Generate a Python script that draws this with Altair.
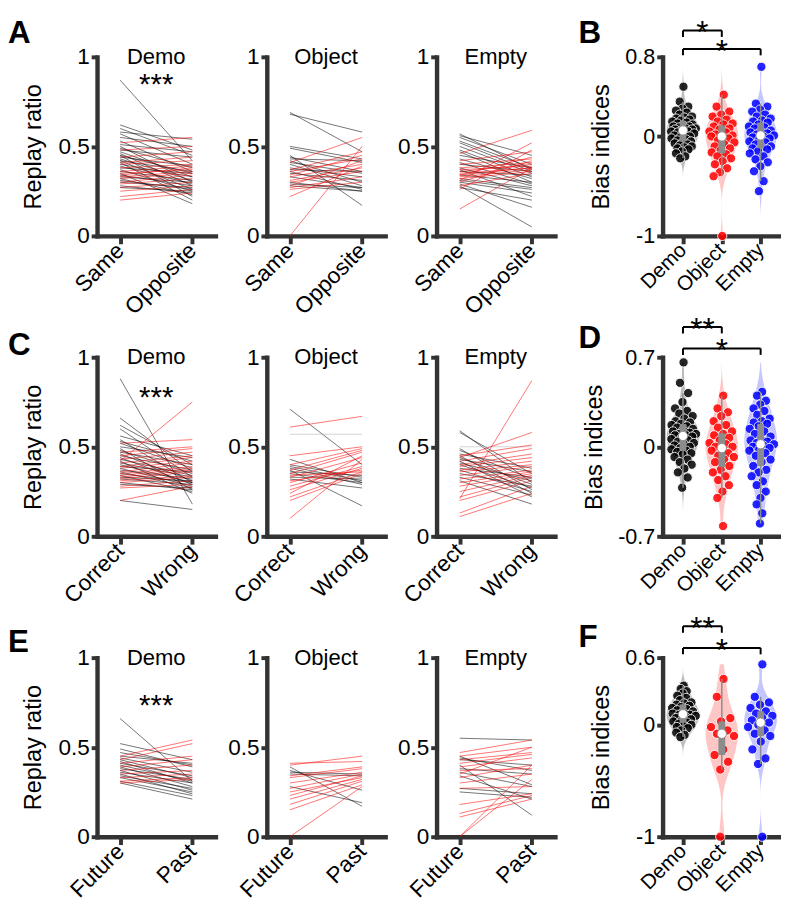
import altair as alt
import pandas as pd

FONT = "Liberation Sans"

groups = ["Demo", "Object", "Empty"]
cond_labels = [["Same", "Opposite"], ["Correct", "Wrong"], ["Future", "Past"]]
letters = [["A", "B"], ["C", "D"], ["E", "F"]]
letter_dy = [[4, 33], [16, 42], [12, 41]]
sig_stars = ["***", "***", "***"]
sig_star_level = [0.84, 0.77, 0.73]

# ---------------- Row A : Same vs Opposite ----------------
a_demo_same = [0.87, 0.62, 0.60, 0.58, 0.57, 0.55, 0.53, 0.51, 0.50, 0.49, 0.48, 0.47, 0.46, 0.45, 0.45, 0.44, 0.43,
               0.42, 0.42, 0.41, 0.40, 0.39, 0.38, 0.37, 0.36, 0.35, 0.34, 0.33, 0.32, 0.31, 0.30, 0.28, 0.27,
               0.52, 0.48, 0.44, 0.41, 0.40, 0.38, 0.36, 0.35, 0.34, 0.33, 0.32, 0.30, 0.29, 0.27, 0.25, 0.22, 0.20]
a_demo_opp = [0.42, 0.48, 0.45, 0.54, 0.40, 0.50, 0.36, 0.47, 0.30, 0.38, 0.44, 0.33, 0.28, 0.35, 0.22, 0.39, 0.31,
              0.26, 0.36, 0.20, 0.33, 0.29, 0.35, 0.25, 0.31, 0.18, 0.28, 0.30, 0.23, 0.26, 0.27, 0.24, 0.25,
              0.55, 0.50, 0.47, 0.44, 0.42, 0.40, 0.39, 0.37, 0.38, 0.36, 0.35, 0.34, 0.32, 0.30, 0.28, 0.26, 0.24]
a_object_same = [0.69, 0.68, 0.50, 0.49, 0.45, 0.44, 0.43, 0.42, 0.41, 0.40, 0.38, 0.37, 0.36, 0.35, 0.33, 0.30, 0.29, 0.28,
                 0.00, 0.41, 0.37, 0.36, 0.34, 0.33, 0.31, 0.30, 0.28, 0.27, 0.26, 0.22]
a_object_opp = [0.47, 0.58, 0.43, 0.41, 0.17, 0.36, 0.42, 0.30, 0.35, 0.28, 0.33, 0.36, 0.26, 0.31, 0.27, 0.25, 0.27, 0.25,
                0.50, 0.55, 0.47, 0.43, 0.45, 0.40, 0.38, 0.36, 0.42, 0.33, 0.30, 0.39]
a_empty_same = [0.57, 0.56, 0.55, 0.53, 0.52, 0.50, 0.48, 0.47, 0.45, 0.43, 0.41, 0.40, 0.38, 0.37, 0.36, 0.34, 0.32, 0.31,
                0.29, 0.28, 0.27, 0.30,
                0.46, 0.42, 0.40, 0.38, 0.37, 0.36, 0.35, 0.34, 0.33, 0.32, 0.31, 0.30, 0.28, 0.26, 0.15, 0.34]
a_empty_opp = [0.37, 0.45, 0.40, 0.38, 0.36, 0.35, 0.33, 0.30, 0.38, 0.32, 0.29, 0.36, 0.28, 0.22, 0.34, 0.30, 0.27, 0.26,
               0.16, 0.05, 0.20, 0.24,
               0.59, 0.47, 0.43, 0.41, 0.39, 0.40, 0.38, 0.44, 0.37, 0.36, 0.52, 0.42, 0.35, 0.48, 0.38, 0.38]

# ---------------- Row C : Correct vs Wrong ----------------
c_demo_same = [0.88, 0.66, 0.62, 0.60, 0.56, 0.54, 0.53, 0.52, 0.50, 0.49, 0.48, 0.47, 0.46, 0.45, 0.44, 0.43, 0.42,
               0.41, 0.40, 0.39, 0.38, 0.37, 0.36, 0.35, 0.34, 0.33, 0.32, 0.30, 0.29, 0.20,
               0.42, 0.52, 0.47, 0.45, 0.43, 0.41, 0.39, 0.38, 0.36, 0.35, 0.34, 0.33, 0.32, 0.31, 0.30, 0.28, 0.27, 0.20]
c_demo_wrong = [0.18, 0.36, 0.40, 0.33, 0.45, 0.30, 0.42, 0.38, 0.44, 0.26, 0.35, 0.40, 0.31, 0.37, 0.29, 0.34, 0.24,
                0.33, 0.30, 0.36, 0.28, 0.32, 0.27, 0.30, 0.25, 0.31, 0.29, 0.26, 0.27, 0.15,
                0.75, 0.54, 0.50, 0.49, 0.47, 0.45, 0.44, 0.42, 0.41, 0.39, 0.38, 0.37, 0.36, 0.34, 0.33, 0.31, 0.29, 0.28]
c_object_same = [0.71, 0.43, 0.40, 0.39, 0.38, 0.37, 0.36, 0.35, 0.33, 0.32,
                 0.57, 0.33,
                 0.61, 0.45, 0.40, 0.37, 0.35, 0.33, 0.30, 0.28, 0.26, 0.24, 0.22, 0.20, 0.10, 0.31, 0.34]
c_object_wrong = [0.40, 0.30, 0.33, 0.31, 0.29, 0.17, 0.34, 0.30, 0.32, 0.27,
                  0.57, 0.33,
                  0.67, 0.50, 0.49, 0.48, 0.47, 0.44, 0.41, 0.39, 0.38, 0.45, 0.36, 0.35, 0.43, 0.37, 0.36]
c_empty_same = [0.59, 0.58, 0.50, 0.49, 0.48, 0.46, 0.45, 0.44, 0.43, 0.42, 0.41, 0.40, 0.38, 0.37, 0.35, 0.33, 0.31,
                0.21, 0.45, 0.44, 0.42, 0.40, 0.39, 0.37, 0.36, 0.34, 0.32, 0.30, 0.28, 0.25, 0.22, 0.20, 0.13, 0.11]
c_empty_wrong = [0.30, 0.35, 0.50, 0.26, 0.32, 0.38, 0.24, 0.29, 0.36, 0.22, 0.31, 0.27, 0.33, 0.25, 0.28, 0.23, 0.18,
                 0.87, 0.51, 0.58, 0.49, 0.46, 0.44, 0.42, 0.40, 0.39, 0.37, 0.36, 0.35, 0.34, 0.33, 0.31, 0.28, 0.24]

# ---------------- Row E : Future vs Past ----------------
e_demo_future = [0.66, 0.52, 0.49, 0.47, 0.45, 0.44, 0.43, 0.42, 0.41, 0.40, 0.39, 0.38, 0.37, 0.36, 0.35, 0.34, 0.33,
                 0.31, 0.30,
                 0.45, 0.43, 0.41, 0.39, 0.37, 0.35, 0.33, 0.31, 0.30]
e_demo_past = [0.31, 0.43, 0.39, 0.40, 0.41, 0.36, 0.33, 0.30, 0.34, 0.31, 0.28, 0.32, 0.26, 0.30, 0.24, 0.27, 0.25,
               0.23, 0.21,
               0.54, 0.52, 0.45, 0.43, 0.40, 0.37, 0.35, 0.33, 0.32]
e_object_future = [0.39, 0.37, 0.36, 0.35, 0.28,
                   0.41, 0.40, 0.34, 0.33, 0.30, 0.27, 0.25, 0.23, 0.21, 0.18, 0.15, 0.00]
e_object_past = [0.17, 0.26, 0.35, 0.34, 0.19,
                 0.42, 0.45, 0.39, 0.38, 0.36, 0.35, 0.33, 0.34, 0.32, 0.31, 0.29, 0.28]
e_empty_future = [0.55, 0.45, 0.44, 0.43, 0.40, 0.38, 0.36, 0.34, 0.27, 0.25,
                  0.47, 0.45, 0.43, 0.41, 0.39, 0.37, 0.33, 0.30, 0.27, 0.18, 0.13, 0.11, 0.00, 0.00, 0.35]
e_empty_past = [0.54, 0.29, 0.37, 0.40, 0.12, 0.35, 0.28, 0.21, 0.24, 0.22,
                0.54, 0.50, 0.47, 0.46, 0.44, 0.38, 0.40, 0.35, 0.28, 0.24, 0.23, 0.21, 0.40, 0.32, 0.50]

slope_data = [
    [(a_demo_same, a_demo_opp), (a_object_same, a_object_opp), (a_empty_same, a_empty_opp)],
    [(c_demo_same, c_demo_wrong), (c_object_same, c_object_wrong), (c_empty_same, c_empty_wrong)],
    [(e_demo_future, e_demo_past), (e_object_future, e_object_past), (e_empty_future, e_empty_past)],
]

# ---------------- Bias indices (violins) ----------------
b_demo = [0.50, 0.35, 0.30, 0.28, 0.26, 0.24, 0.22, 0.20, 0.19, 0.18, 0.17, 0.16, 0.15, 0.14, 0.13, 0.12, 0.11, 0.10,
          0.10, 0.09, 0.08, 0.08, 0.07, 0.07, 0.06, 0.05, 0.05, 0.04, 0.03, 0.02, 0.01, 0.00, -0.01, -0.02, -0.03,
          -0.04, -0.05, -0.06, -0.07, -0.08, -0.09, -0.10, -0.11, -0.12, -0.13, -0.15, -0.17, -0.20, -0.22]
b_object = [0.42, 0.30, 0.25, 0.22, 0.20, 0.17, 0.15, 0.13, 0.12, 0.10, 0.08, 0.07, 0.05, 0.04, 0.02, 0.01, 0.00, 0.00,
            -0.02, -0.04, -0.06, -0.08, -0.10, -0.12, -0.14, -0.16, -0.18, -0.20, -0.22, -0.25, -0.28, -0.32, -0.36,
            -0.40, -1.0]
b_empty = [0.70, 0.33, 0.30, 0.27, 0.25, 0.22, 0.20, 0.18, 0.16, 0.15, 0.14, 0.12, 0.10, 0.09, 0.08, 0.06, 0.05, 0.04,
           0.03, 0.02, 0.01, 0.00, -0.01, -0.02, -0.03, -0.05, -0.06, -0.08, -0.10, -0.11, -0.12, -0.13, -0.15, -0.17,
           -0.20, -0.23, -0.26, -0.30, -0.35, -0.45, -0.55]
d_demo = [0.66, 0.50, 0.42, 0.35, 0.30, 0.28, 0.26, 0.24, 0.22, 0.20, 0.19, 0.18, 0.17, 0.16, 0.15, 0.14, 0.13, 0.12,
          0.11, 0.10, 0.10, 0.09, 0.09, 0.08, 0.07, 0.06, 0.05, 0.04, 0.03, 0.02, 0.01, 0.00, -0.01, -0.02, -0.03,
          -0.04, -0.05, -0.06, -0.08, -0.10, -0.12, -0.14, -0.17, -0.20, -0.24, -0.32]
d_object = [0.40, 0.30, 0.27, 0.24, 0.20, 0.17, 0.15, 0.12, 0.10, 0.09, 0.07, 0.05, 0.03, 0.02, 0.00, 0.00, -0.02,
            -0.03, -0.05, -0.07, -0.08, -0.10, -0.12, -0.15, -0.18, -0.20, -0.23, -0.26, -0.30, -0.35, -0.40, -0.62]
d_empty = [0.43, 0.40, 0.36, 0.33, 0.30, 0.28, 0.25, 0.22, 0.20, 0.19, 0.18, 0.16, 0.14, 0.12, 0.10, 0.08, 0.06, 0.05,
           0.04, 0.03, 0.02, 0.01, 0.00, -0.01, -0.02, -0.03, -0.05, -0.07, -0.10, -0.12, -0.15, -0.18, -0.20, -0.23,
           -0.27, -0.30, -0.35, -0.40, -0.45, -0.52, -0.60]
f_demo = [0.35, 0.32, 0.30, 0.28, 0.26, 0.24, 0.22, 0.20, 0.19, 0.18, 0.17, 0.16, 0.15, 0.14, 0.13, 0.12, 0.11, 0.10,
          0.09, 0.09, 0.08, 0.07, 0.06, 0.05, 0.04, 0.03, 0.02, 0.01, 0.00, -0.01, -0.02, -0.03, -0.05, -0.07, -0.09,
          -0.11]
f_object = [0.41, 0.25, 0.06, 0.03, -0.02, -0.05, -0.08, -0.10, -0.22, -0.27, -0.33, -0.40, -1.0]
f_empty = [0.54, 0.25, 0.20, 0.18, 0.15, 0.12, 0.10, 0.08, 0.06, 0.04, 0.02, 0.00, -0.02, -0.05, -0.08, -0.10, -0.15,
           -0.22, -0.30, -0.35, -1.0]

bias_data = [[b_demo, b_object, b_empty], [d_demo, d_object, d_empty], [f_demo, f_object, f_empty]]
bias_ticks = [[-1, 0, 0.8], [-0.7, 0, 0.7], [-1, 0, 0.6]]
bracket_pairs = [[0, 1], [0, 2]]
bracket_labels = [["*", "*"], ["**", "*"], ["**", "*"]]
bracket_levels = [[1.065, 0.88], [0.937, 0.769], [0.88, 0.687]]

fill_colors = ["#bdbdbd", "#ffc6c6", "#c6c6ff"]
point_colors = ["#000000", "#ff0000", "#0000ff"]

W, H = 121, 183


def slope_panel(r, g):
    same, opp = slope_data[r][g]
    n = len(same)
    dirs = ["up" if o > s else ("down" if o < s else "flat") for s, o in zip(same, opp)]
    df = pd.DataFrame({
        "id": list(range(n)) * 2,
        "cond": [0] * n + [1] * n,
        "value": list(same) + list(opp),
        "dir": dirs * 2,
    })
    l0, l1 = cond_labels[r]
    xs = alt.Scale(domain=[-0.32, 1.32], nice=False, zero=False)
    ys = alt.Scale(domain=[0, 1], nice=False, zero=False)
    xax = alt.Axis(values=[0, 1], labelExpr=f"datum.value == 0 ? '{l0}' : '{l1}'", labelAngle=-45,
                   labelAlign="right", labelBaseline="middle", tickSize=8, title=None, labelPadding=3,
                   labelOverlap=False)
    yax = alt.Axis(values=[0, 0.5, 1], labelExpr="toString(datum.value)", tickSize=6,
                   title="Replay ratio" if g == 0 else None, titlePadding=13, labelPadding=2,
                   labelOverlap=False)
    lines = alt.Chart(df).mark_line(strokeWidth=1, opacity=0.55).encode(
        x=alt.X("cond:Q", scale=xs, axis=xax),
        y=alt.Y("value:Q", scale=ys, axis=yax),
        detail="id:N",
        color=alt.Color("dir:N", scale=alt.Scale(domain=["up", "down", "flat"],
                                                 range=["#ff0000", "#000000", "#b0b0b0"]), legend=None),
    )
    lab = alt.Chart(pd.DataFrame({"x": [0.5], "y": [1.0], "t": [groups[g]]})).mark_text(
        font=FONT, fontSize=22.5, baseline="middle", color="black").encode(
        x=alt.X("x:Q", scale=xs), y=alt.Y("y:Q", scale=ys), text="t:N")
    layers = [lines, lab]
    if g == 0:
        st = pd.DataFrame({"x": [0.5], "y": [sig_star_level[r]], "t": [sig_stars[r]]})
        layers.append(alt.Chart(st).mark_text(font=FONT, fontSize=30, baseline="middle", color="black").encode(
            x=alt.X("x:Q", scale=xs), y=alt.Y("y:Q", scale=ys), text="t:N"))
    ch = alt.layer(*layers).properties(width=W, height=H)
    if g == 0:
        ch = ch.properties(title=alt.TitleParams(letters[r][0], anchor="start", frame="group", dx=-91,
                                                 dy=letter_dy[r][0], offset=0, fontSize=32,
                                                 fontWeight="bold", font=FONT, color="black"))
    return ch


def violin_panel(r):
    rows = []
    for gi, vals in enumerate(bias_data[r]):
        for v in vals:
            rows.append({"group": groups[gi], "gidx": gi, "value": v})
    df = pd.DataFrame(rows)
    lo, hi = bias_ticks[r][0], bias_ticks[r][-1]
    drop = 0.036 * (hi - lo)
    xs = alt.Scale(domain=[-0.525, 2.525], nice=False, zero=False)
    ys = alt.Scale(domain=[lo, hi], nice=False, zero=False)
    names = ",".join(f"'{g}'" for g in groups)
    xax = alt.Axis(values=[0, 1, 2], labelExpr=f"[{names}][datum.value]", labelAngle=-45,
                   labelAlign="right", labelBaseline="middle", tickSize=8, title=None, labelPadding=3,
                   labelFontSize=21, labelOverlap=False)
    yax = alt.Axis(values=bias_ticks[r], labelExpr="toString(datum.value)", tickSize=6,
                   title="Bias indices", titlePadding=12, labelPadding=2, labelFontSize=22,
                   labelOverlap=False)
    base = alt.Chart(df)
    violin = base.transform_density(
        "value", groupby=["group", "gidx"], as_=["value", "density"]
    ).transform_joinaggregate(maxd="max(density)", groupby=["group"]).transform_calculate(
        xl="datum.gidx - 0.42*datum.density/datum.maxd",
        xr="datum.gidx + 0.42*datum.density/datum.maxd",
    ).mark_area(orient="horizontal", opacity=1).encode(
        x=alt.X("xl:Q", scale=xs, axis=xax), x2="xr:Q",
        y=alt.Y("value:Q", scale=ys, axis=yax),
        color=alt.Color("group:N", scale=alt.Scale(domain=groups, range=fill_colors), legend=None),
    )
    pts = base.transform_window(rn="row_number()", groupby=["group"]).transform_joinaggregate(
        med="median(value)", vmin="min(value)", vmax="max(value)", groupby=["group"]
    ).transform_calculate(
        jx="datum.gidx + 0.36*(2*((datum.rn*0.6180339) % 1) - 1)"
           "*max(0.12, 1 - 1.4*abs(datum.value - datum.med)/(datum.vmax - datum.vmin))"
    ).mark_circle(size=90, opacity=0.85, stroke="white", strokeWidth=1).encode(
        x=alt.X("jx:Q", scale=xs), y=alt.Y("value:Q", scale=ys),
        color=alt.Color("group:N", scale=alt.Scale(domain=groups, range=point_colors), legend=None),
    )
    box = base.transform_joinaggregate(
        q1="q1(value)", q3="q3(value)", med="median(value)", groupby=["group", "gidx"]
    ).transform_calculate(
        lf="datum.q1 - 1.5*(datum.q3 - datum.q1)", uf="datum.q3 + 1.5*(datum.q3 - datum.q1)"
    ).transform_filter("datum.value >= datum.lf && datum.value <= datum.uf").transform_aggregate(
        wlo="min(value)", whi="max(value)", bq1="min(q1)", bq3="min(q3)", bmed="min(med)",
        groupby=["group", "gidx"])
    whisk = box.mark_rule(color="#8c8c8c", strokeWidth=1.5).encode(
        x=alt.X("gidx:Q", scale=xs), y=alt.Y("wlo:Q", scale=ys), y2="whi:Q")
    iqr = box.mark_rule(color="#8c8c8c", strokeWidth=7, strokeCap="butt").encode(
        x=alt.X("gidx:Q", scale=xs), y=alt.Y("bq1:Q", scale=ys), y2="bq3:Q")
    medp = box.mark_circle(color="white", size=90, opacity=1, stroke="#8c8c8c", strokeWidth=1).encode(
        x=alt.X("gidx:Q", scale=xs), y=alt.Y("bmed:Q", scale=ys))

    br = pd.DataFrame({
        "x1": [p[0] for p in bracket_pairs],
        "x2": [p[1] for p in bracket_pairs],
        "xm": [(p[0] + p[1]) / 2 for p in bracket_pairs],
        "y": bracket_levels[r],
        "y0": [v - drop for v in bracket_levels[r]],
        "t": bracket_labels[r],
    })
    bb = alt.Chart(br)
    br_h = bb.mark_rule(color="black", strokeWidth=2).encode(
        x=alt.X("x1:Q", scale=xs), x2="x2:Q", y=alt.Y("y:Q", scale=ys))
    br_l = bb.mark_rule(color="black", strokeWidth=2).encode(
        x=alt.X("x1:Q", scale=xs), y=alt.Y("y0:Q", scale=ys), y2="y:Q")
    br_r = bb.mark_rule(color="black", strokeWidth=2).encode(
        x=alt.X("x2:Q", scale=xs), y=alt.Y("y0:Q", scale=ys), y2="y:Q")
    br_t = bb.mark_text(font=FONT, fontSize=32, baseline="middle", dy=3, color="black").encode(
        x=alt.X("xm:Q", scale=xs), y=alt.Y("y:Q", scale=ys), text="t:N")

    ch = alt.layer(violin, pts, whisk, iqr, medp, br_h, br_l, br_r, br_t).resolve_scale(
        color="independent").properties(
        width=W, height=H,
        title=alt.TitleParams(letters[r][1], anchor="start", frame="group", dx=-86, dy=letter_dy[r][1],
                              offset=0, fontSize=32, fontWeight="bold", font=FONT, color="black"))
    return ch


def spacer():
    return alt.Chart(pd.DataFrame({"v": [0]})).mark_point(opacity=0).encode(
        x=alt.X("v:Q", axis=None), y=alt.Y("v:Q", axis=None)).properties(width=5, height=H)


panels = []
for r in range(3):
    for g in range(3):
        panels.append(slope_panel(r, g))
    panels.append(spacer())
    panels.append(violin_panel(r))

chart = alt.concat(*panels, columns=5, spacing={"row": 124, "column": 52.5}, bounds="flush",
                   align="each").properties(
    padding=0
).configure_view(stroke=None).configure_axis(
    domainColor="#333333", domainWidth=4.5, domainCap="square",
    tickColor="#333333", tickWidth=4,
    labelFont=FONT, labelFontSize=23, labelColor="black",
    titleFont=FONT, titleFontSize=24, titleFontWeight="normal", titleColor="black",
    grid=False,
)

chart.save("out.html", embed_options={"renderer": "svg", "actions": False})
